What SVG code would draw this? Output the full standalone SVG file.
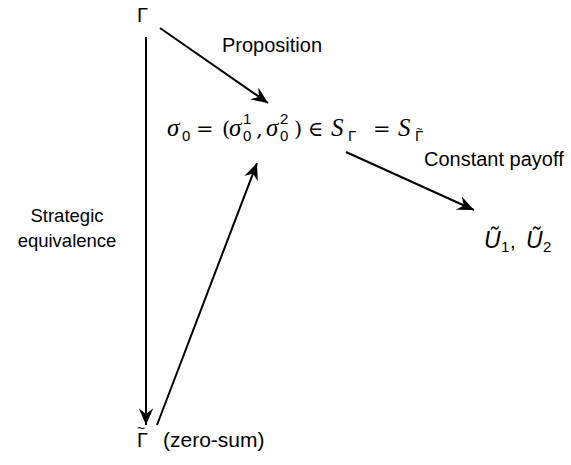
<svg xmlns="http://www.w3.org/2000/svg" width="571" height="465" viewBox="0 0 571 465">
<style>
.t{font-family:"Liberation Sans",Arial,sans-serif;font-size:20px;fill:#000}
.m{font-family:"Liberation Serif","DejaVu Serif",serif;font-size:25px;font-style:italic;fill:#000}
.r{font-family:"DejaVu Serif","Liberation Serif",serif;font-size:21px;fill:#000}
.s{font-family:"Liberation Sans",Arial,sans-serif;font-size:15px;fill:#000}
.c line{stroke:#000;stroke-width:2;fill:none}
</style>
<defs>
<marker id="ah" markerUnits="userSpaceOnUse" markerWidth="20" markerHeight="20" viewBox="-16 -8 18 16" refX="0" refY="0" orient="auto">
<path d="M0,0 L-15,-6.5 L-10,0 L-15,6.5 Z" fill="#000"/>
</marker>
</defs>
<rect width="571" height="465" fill="#fff"/>
<g class="c">
<line x1="160" y1="28" x2="268" y2="103" marker-end="url(#ah)"/>
<line x1="146" y1="37" x2="146" y2="425" marker-end="url(#ah)"/>
<line x1="157" y1="425" x2="257" y2="163" marker-end="url(#ah)"/>
<line x1="346" y1="152" x2="474" y2="210" marker-end="url(#ah)"/>
</g>
<g id="gamma"><text class="t" x="137" y="22">Γ</text></g>
<g id="proposition"><text class="t" x="222" y="52">Proposition</text></g>
<g id="sigma">
<text class="m" x="167" y="136">σ</text>
<text class="s" x="182" y="141">0</text>
<text class="r" x="196" y="136">=</text>
<text class="r" x="222" y="136">(</text>
<text class="m" x="229" y="136">σ</text>
<text class="s" x="243" y="124">1</text>
<text class="s" x="243" y="141">0</text>
<text class="r" x="256" y="136">,</text>
<text class="m" x="266" y="136">σ</text>
<text class="s" x="280" y="124">2</text>
<text class="s" x="280" y="141">0</text>
<text class="r" x="294" y="136">)</text>
<text class="r" x="308" y="136">∈</text>
<text class="m" x="331" y="136">S</text>
<text class="s" x="348" y="141">Γ</text>
<text class="r" x="373" y="136">=</text>
<text class="m" x="398" y="136">S</text>
<text class="s" x="415" y="141">Γ</text>
<text class="s" x="416" y="133" style="font-size:11px">~</text>
</g>
<g id="constant"><text class="t" x="424" y="166">Constant payoff</text></g>
<g id="u">
<text class="t" x="484" y="248" style="font-style:italic;font-size:23px">Ũ</text>
<text class="s" x="501" y="252">1</text>
<text class="t" x="510" y="248">,</text>
<text class="t" x="526" y="248" style="font-style:italic;font-size:23px">Ũ</text>
<text class="s" x="543" y="252">2</text>
</g>
<g id="strategic">
<text class="t" x="67" y="222" text-anchor="middle" style="font-size:18.5px">Strategic</text>
<text class="t" x="67" y="247" text-anchor="middle" style="font-size:18.5px">equivalence</text>
</g>
<g id="gammatilde">
<text class="t" x="137" y="447">Γ</text>
<text class="t" x="137" y="433" style="font-size:14px">~</text>
<text class="t" x="163" y="447" style="font-size:21px">(zero-sum)</text>
</g>
</svg>
